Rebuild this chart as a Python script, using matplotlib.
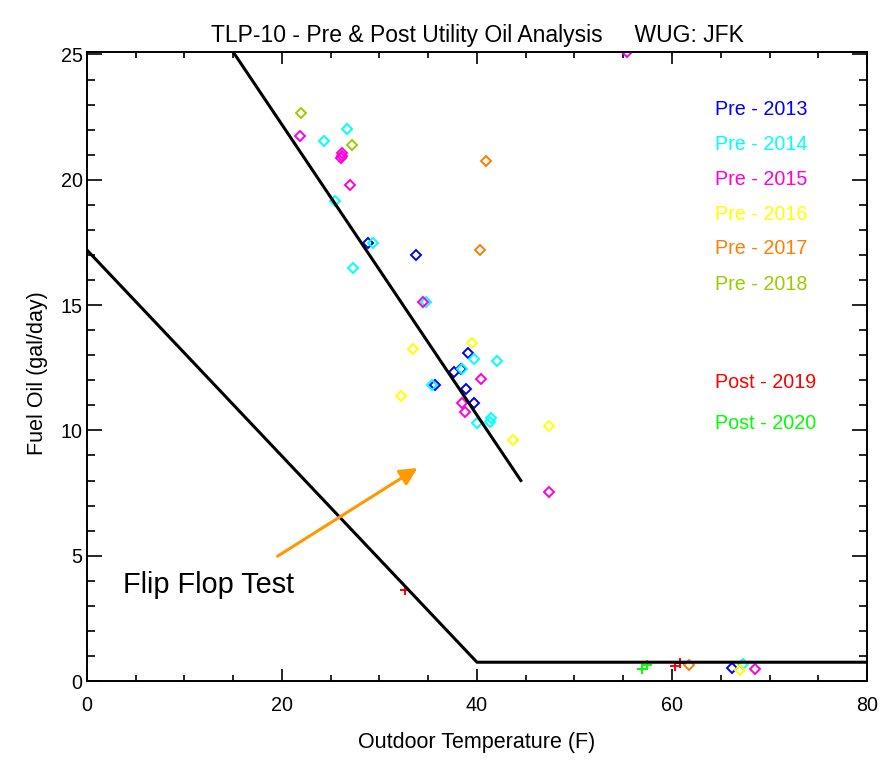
import numpy as np
import matplotlib.pyplot as plt
from matplotlib.ticker import MultipleLocator

plt.rcParams['font.family'] = ['Liberation Sans', 'DejaVu Sans']

# pre-retrofit readings (open diamonds)
pre2013_x = [28.8, 33.75, 39.05, 38.36, 37.61, 35.74, 38.91, 39.7, 66.2]
pre2013_y = [17.46, 16.98, 13.07, 12.47, 12.34, 11.82, 11.67, 11.09, 0.5]
pre2014_x = [26.65, 24.36, 25.49, 29.38, 27.33, 34.74, 39.73, 42.02, 38.5, 35.39, 41.47, 41.3, 40.04, 67.3]
pre2014_y = [22.04, 21.55, 19.14, 17.46, 16.49, 15.11, 12.83, 12.76, 12.47, 11.82, 10.49, 10.33, 10.31, 0.67]
pre2015_x = [21.83, 26.2, 26.2, 26.1, 26.96, 34.5, 40.45, 38.46, 38.74, 47.35, 55.34, 68.48]
pre2015_y = [21.74, 21.05, 20.95, 20.88, 19.8, 15.11, 12.04, 11.09, 10.72, 7.54, 25.1, 0.47]
pre2016_x = [39.46, 33.48, 32.18, 47.42, 43.73, 66.95]
pre2016_y = [13.48, 13.25, 11.38, 10.17, 9.63, 0.45]
pre2017_x = [40.89, 40.31, 61.79]
pre2017_y = [20.77, 17.21, 0.62]
pre2018_x = [21.94, 27.23]
pre2018_y = [22.68, 21.38]

# post-retrofit readings (plus signs)
post2019_x = [60.26, 60.87, 32.6]
post2019_y = [0.6, 0.72, 3.63]
post2020_x = [56.95, 57.46]
post2020_y = [0.48, 0.64]

# reference lines
upper_x = [10.0, 44.5]
upper_y = [28.0, 8.0]
lower_x = [0.0, 40.0, 80.0]
lower_y = [17.2, 0.75, 0.75]

labels = ['Pre - 2013', 'Pre - 2014', 'Pre - 2015', 'Pre - 2016', 'Pre - 2017', 'Pre - 2018',
          'Post - 2019', 'Post - 2020']
colors = ['#0000ff', '#00ffff', '#ff00dd', '#ffff00', '#ff7f00', '#9acd00', '#ff0000', '#00ff00']
label_y = [0.908, 0.853, 0.797, 0.742, 0.687, 0.631, 0.475, 0.410]

fig = plt.figure(figsize=(8.83, 7.76), dpi=100)
ax = fig.add_axes([0.0984, 0.1224, 0.8835, 0.8106])

pre = [(pre2013_x, pre2013_y), (pre2014_x, pre2014_y), (pre2015_x, pre2015_y),
       (pre2016_x, pre2016_y), (pre2017_x, pre2017_y), (pre2018_x, pre2018_y)]
for (xs, ys), c in zip(pre, colors[:6]):
    ax.plot(xs, ys, ls='none', marker='D', ms=5.0, mfc='none', mec=c, mew=1.4, zorder=2)

ax.plot(post2019_x, post2019_y, ls='none', marker='+', ms=7, mec=colors[6], mew=1.4, zorder=2)
ax.plot(post2020_x, post2020_y, ls='none', marker='+', ms=7, mec=colors[7], mew=1.4, zorder=2)

ax.plot(upper_x, upper_y, color='black', lw=2.2, zorder=3)
ax.plot(lower_x, lower_y, color='black', lw=2.2, zorder=3)

ax.annotate('', xy=(33.9, 8.5), xytext=(19.55, 4.98),
            arrowprops=dict(arrowstyle='-|>', color='#ff9900', lw=2.2,
                            mutation_scale=26, shrinkA=0, shrinkB=0))
ax.text(0.0463, 0.1526, 'Flip Flop Test', transform=ax.transAxes,
        fontsize=20.8, va='center', ha='left')

for lab, c, yy in zip(labels, colors, label_y):
    ax.text(0.805, yy, lab, color=c, transform=ax.transAxes, fontsize=14.2, va='center', ha='left')

ax.set_xlim(0, 80)
ax.set_ylim(0, 25.1)
ax.xaxis.set_major_locator(MultipleLocator(20))
ax.xaxis.set_minor_locator(MultipleLocator(5))
ax.yaxis.set_major_locator(MultipleLocator(5))
ax.yaxis.set_minor_locator(MultipleLocator(1))
ax.tick_params(which='both', direction='in', top=True, right=True, width=1.2, labelsize=14.2)
ax.tick_params(axis='x', which='major', length=8.5, pad=11)
ax.tick_params(axis='x', which='minor', length=4.3)
ax.tick_params(axis='y', which='major', length=11, pad=3)
ax.tick_params(axis='y', which='minor', length=5.5)
for s in ax.spines.values():
    s.set_linewidth(1.4)

ax.set_title('TLP-10 - Pre & Post Utility Oil Analysis     WUG: JFK', fontsize=16.5, pad=7)
ax.set_xlabel('Outdoor Temperature (F)', fontsize=15.5)
ax.xaxis.set_label_coords(0.5, -0.081)
ax.set_ylabel('Fuel Oil (gal/day)', fontsize=15.5)
ax.yaxis.set_label_coords(-0.05, 0.49)

fig.savefig('out.png', dpi=100)
